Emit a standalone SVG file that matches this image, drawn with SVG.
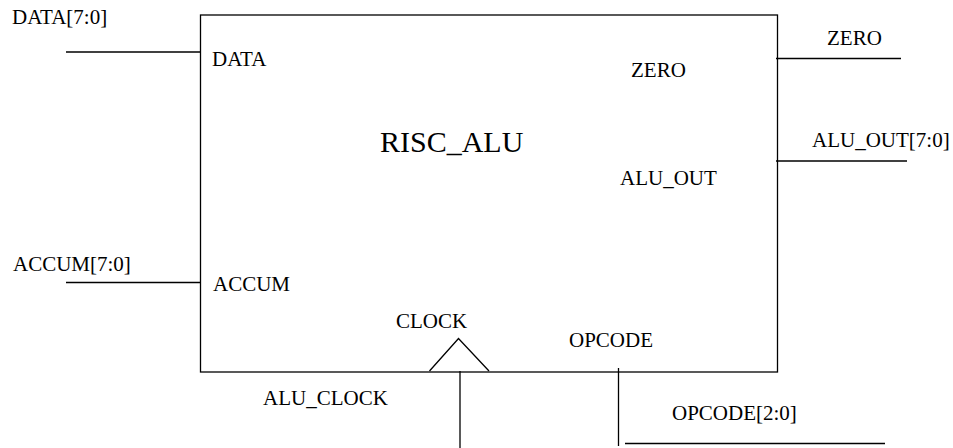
<svg xmlns="http://www.w3.org/2000/svg" width="953" height="448" viewBox="0 0 953 448">
<style>
.t{font-family:"Liberation Serif","Times New Roman",serif;font-size:21px;fill:#000}
.big{font-size:30px}
.ln{stroke:#000;stroke-width:1.3;fill:none}
</style>
<rect width="953" height="448" fill="#fff"/>
<g id="risc_alu">
<rect class="ln" x="200.5" y="15" width="577" height="357"/>
<text class="t big" x="380" y="151.5">RISC_ALU</text>
<text class="t" x="212" y="66">DATA</text>
<text class="t" x="213" y="291">ACCUM</text>
<text class="t" x="631" y="77">ZERO</text>
<text class="t" x="620" y="185">ALU_OUT</text>
<text class="t" x="396" y="327.5">CLOCK</text>
<text class="t" x="569" y="347">OPCODE</text>
<polyline class="ln" points="429.5,371 458.5,338.5 489,371"/>
</g>
<g id="connectors">
<line class="ln" x1="66" y1="52" x2="200" y2="52"/>
<line class="ln" x1="66" y1="282.5" x2="200" y2="282.5"/>
<line class="ln" x1="776" y1="58.5" x2="901" y2="58.5"/>
<line class="ln" x1="776" y1="161" x2="907" y2="161"/>
<line class="ln" x1="460" y1="371" x2="460" y2="448"/>
<line class="ln" x1="618.5" y1="368" x2="618.5" y2="446"/>
<line class="ln" x1="625" y1="443.5" x2="885" y2="443.5"/>
</g>
<g id="labels">
<text class="t" x="12" y="24">DATA[7:0]</text>
<text class="t" x="13" y="271">ACCUM[7:0]</text>
<text class="t" x="827" y="45">ZERO</text>
<text class="t" x="812" y="147">ALU_OUT[7:0]</text>
<text class="t" x="263" y="405">ALU_CLOCK</text>
<text class="t" x="672" y="419.5">OPCODE[2:0]</text>
</g>
</svg>
